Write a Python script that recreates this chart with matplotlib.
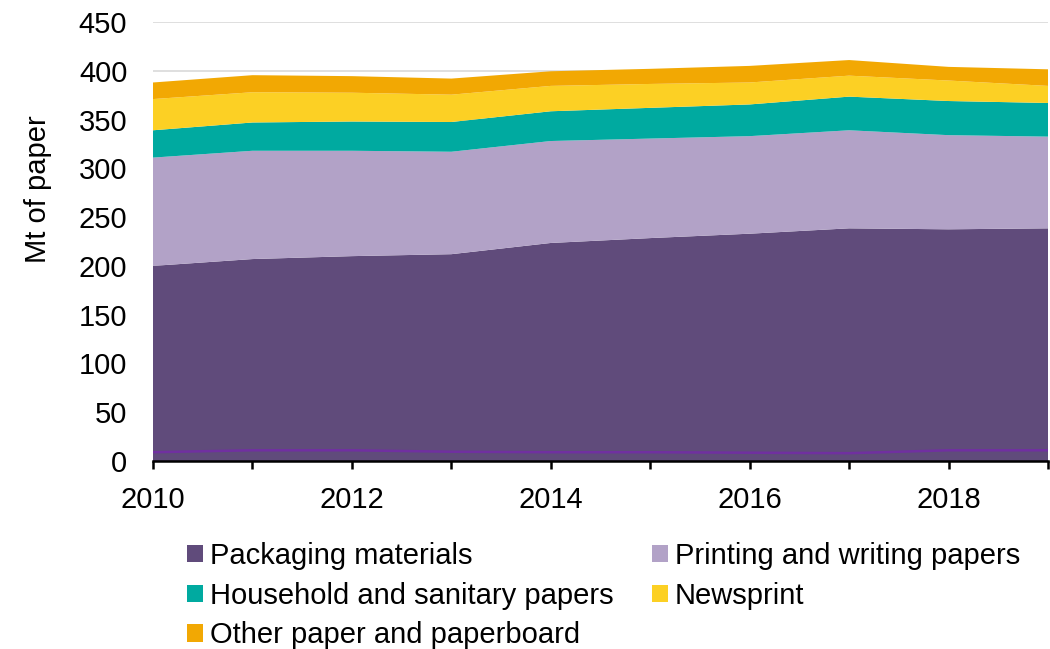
import matplotlib
matplotlib.use("Agg")
import matplotlib.pyplot as plt
from matplotlib.patches import Patch

plt.rcParams['font.family'] = ['Liberation Sans', 'DejaVu Sans']

years = [2010, 2011, 2012, 2013, 2014, 2015, 2016, 2017, 2018, 2019]
packaging = [200, 207, 210, 212, 223.5, 228.5, 233, 238.5, 237.5, 238.5]
printing = [111, 111, 108, 105, 104.5, 102, 100, 100.5, 96.5, 94]
household = [28, 29, 30, 30.5, 30.5, 31.5, 32.5, 34.5, 35, 34.5]
newsprint = [32, 31, 29.5, 28, 26, 24.5, 22.5, 21.5, 21, 17.5]
other = [17, 17.5, 17, 16.5, 15, 15.5, 17, 16, 14, 17]
bottom_line = [9, 11, 11, 9.5, 9, 9, 8.5, 8, 11, 11]

labels = ["Packaging materials", "Printing and writing papers",
          "Household and sanitary papers", "Newsprint",
          "Other paper and paperboard"]
colors = ["#604B7B", "#B2A2C7", "#00AAA0", "#FCD024", "#F2A803"]

FS = 21

fig = plt.figure(figsize=(10.5, 6.49), dpi=100)
ax = fig.add_axes([153/1050, 1-461/649, (1048-153)/1050, (461-22)/649])

ax.stackplot(years, packaging, printing, household, newsprint, other,
             colors=colors, linewidth=0, zorder=2)
ax.plot(years, bottom_line, color="#7030A0", lw=1.8, zorder=3)

ax.set_xlim(2010, 2019)
ax.set_ylim(0, 450)
ax.set_yticks(range(0, 451, 50))
ax.set_xticks(years)
ax.set_xticklabels([str(y) if y % 2 == 0 else "" for y in years])
ax.yaxis.grid(True, color="#D9D9D9", lw=1.2, zorder=0)
ax.set_axisbelow(True)
for s in ["top", "right", "left"]:
    ax.spines[s].set_visible(False)
ax.spines["bottom"].set_linewidth(1.8)
ax.spines["bottom"].set_zorder(5)
ax.tick_params(axis="y", length=0, labelsize=FS, pad=18.5)
ax.tick_params(axis="x", direction="out", length=6, width=1.8, labelsize=FS, pad=12)
ax.set_ylabel("Mt of paper", fontsize=FS)
ax.yaxis.set_label_coords((52-153)/895, 0.62)

handles = [Patch(facecolor=c, edgecolor='none') for c in colors]
order = [0, 2, 4, 1, 3]
fig.legend([handles[i] for i in order], [labels[i] for i in order],
           loc="upper left", bbox_to_anchor=(187/1050, 1-542/649),
           ncol=2, frameon=False, fontsize=FS, handlelength=0.55,
           handleheight=0.55, handletextpad=0.24, columnspacing=1.3,
           labelspacing=0.4, borderaxespad=0, borderpad=0)

fig.savefig("out.png", dpi=100)
